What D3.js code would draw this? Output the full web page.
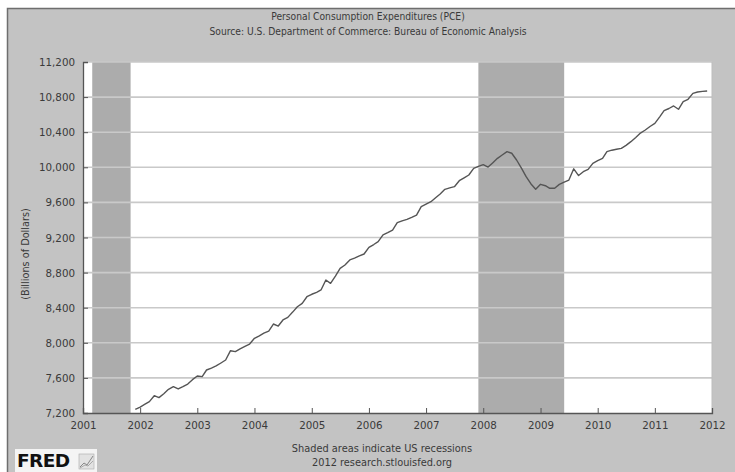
<!DOCTYPE html>
<html>
<head>
<meta charset="utf-8">
<script src="https://cdn.jsdelivr.net/npm/d3@7"></script>
<style>
  html, body { margin: 0; padding: 0; background: #ffffff; }
  svg { display: block; }
</style>
</head>
<body>
<svg id="chart" width="735" height="472"></svg>
<script>
// ---- data ----
const titleLines = ["Personal Consumption Expenditures (PCE)",
                    "Source: U.S. Department of Commerce: Bureau of Economic Analysis"];
const yAxisLabel = "(Billions of Dollars)";
const footerLines = ["Shaded areas indicate US recessions",
                     "2012 research.stlouisfed.org"];
const yTicks = [7200, 7600, 8000, 8400, 8800, 9200, 9600, 10000, 10400, 10800, 11200];
const xTickYears = [2001, 2002, 2003, 2004, 2005, 2006, 2007, 2008, 2009, 2010, 2011, 2012];
const recessions = [["2001-03-01", "2001-11-01"], ["2007-12-01", "2009-06-01"]];
const firstMonth = "2001-12-01";
// monthly PCE, billions of dollars, Dec 2001 .. Dec 2011
const pce = [
  7240,
  7268, 7300, 7330, 7397, 7375, 7420, 7470, 7500, 7474, 7500, 7530, 7580,
  7622, 7614, 7690, 7712, 7736, 7770, 7804, 7910, 7899, 7930, 7960, 7986,
  8051, 8080, 8110, 8134, 8214, 8191, 8260, 8290, 8350, 8411, 8450, 8525,
  8553, 8575, 8602, 8716, 8678, 8760, 8849, 8887, 8944, 8965, 8990, 9012,
  9088, 9120, 9152, 9229, 9255, 9285, 9369, 9390, 9407, 9430, 9456, 9551,
  9580, 9608, 9650, 9696, 9749, 9765, 9779, 9847, 9880, 9912, 9988, 10010,
  10030, 10003, 10050, 10102, 10140, 10178, 10160, 10083, 9990, 9893, 9810, 9749,
  9806, 9790, 9761, 9761, 9805, 9830, 9855, 9983, 9906, 9950, 9977, 10045,
  10075, 10102, 10178, 10195, 10205, 10216, 10250, 10292, 10340, 10390, 10425, 10465,
  10501, 10575, 10645, 10670, 10699, 10661, 10748, 10775, 10843, 10858, 10865, 10870
];

// ---- drawing ----
const svg = d3.select("#chart");
const W = 735, H = 472;
const plot = { left: 83, right: 712, top: 62, bottom: 413 };
const parse = d3.timeParse("%Y-%m-%d");
const start = parse(firstMonth);
const series = pce.map((v, i) => ({ date: d3.timeMonth.offset(start, i), value: v }));

const x = d3.scaleTime()
  .domain([new Date(2001, 0, 1), new Date(2012, 0, 1)])
  .range([plot.left, plot.right]);
const y = d3.scaleLinear()
  .domain([7200, 11200])
  .range([plot.bottom, plot.top]);

const textColor = "#3a3a3a";
const font = "'DejaVu Sans', Verdana, sans-serif";
const condensed = "'DejaVu Sans Condensed', 'DejaVu Sans', sans-serif";

// panel
svg.append("rect").attr("x", 7.5).attr("y", 8.5).attr("width", W).attr("height", H)
  .attr("fill", "#c3c3c3").attr("stroke", "#6e6e6e").attr("stroke-width", 1.5);

// plot area
svg.append("rect").attr("x", plot.left).attr("y", plot.top)
  .attr("width", plot.right - plot.left).attr("height", plot.bottom - plot.top)
  .attr("fill", "#ffffff");

// recessions
svg.append("g").selectAll("rect").data(recessions).join("rect")
  .attr("x", d => x(parse(d[0])))
  .attr("y", plot.top)
  .attr("width", d => x(parse(d[1])) - x(parse(d[0])))
  .attr("height", plot.bottom - plot.top)
  .attr("fill", "#acacac");

// gridlines
svg.append("g").selectAll("line").data(yTicks.filter(t => t !== 7200)).join("line")
  .attr("x1", plot.left).attr("x2", plot.right)
  .attr("y1", d => y(d)).attr("y2", d => y(d))
  .attr("stroke", "#c9c9c9").attr("stroke-width", 1.6);

// right border
svg.append("line").attr("x1", plot.right).attr("x2", plot.right)
  .attr("y1", plot.top).attr("y2", plot.bottom)
  .attr("stroke", "#bdbdbd").attr("stroke-width", 1);

// line
const line = d3.line().x(d => x(d.date)).y(d => y(d.value)).curve(d3.curveLinear);
svg.append("path").datum(series)
  .attr("d", line)
  .attr("fill", "none").attr("stroke", "#555555").attr("stroke-width", 1.4)
  .attr("stroke-linejoin", "round");

// axes
const yAxis = d3.axisLeft(y).tickValues(yTicks).tickSize(-5).tickPadding(8)
  .tickFormat(d3.format(","));
const gy = svg.append("g").attr("transform", `translate(${plot.left},0)`).call(yAxis);
const xAxis = d3.axisBottom(x).tickValues(xTickYears.map(yr => new Date(yr, 0, 1)))
  .tickSize(-5).tickPadding(9).tickFormat(d3.timeFormat("%Y"));
const gx = svg.append("g").attr("transform", `translate(0,${plot.bottom})`).call(xAxis);
[gx, gy].forEach(g => {
  g.select(".domain").attr("stroke", "#555").attr("stroke-width", 1.3);
  g.selectAll(".tick line").attr("stroke", "#555").attr("stroke-width", 1);
  g.selectAll(".tick text").attr("fill", textColor)
    .attr("font-family", font).attr("font-size", 10.3);
});
gy.selectAll(".tick text").attr("dy", "0.34em");

// titles
svg.append("g").selectAll("text").data(titleLines).join("text")
  .attr("x", 368).attr("y", (d, i) => 20 + i * 15)
  .attr("text-anchor", "middle")
  .attr("font-family", condensed)
  .attr("font-size", 10.2).attr("fill", textColor)
  .text(d => d);

// y label
svg.append("text")
  .attr("transform", "translate(29,254) rotate(-90)")
  .attr("text-anchor", "middle")
  .attr("font-family", condensed)
  .attr("font-size", 10.8).attr("fill", textColor)
  .text(yAxisLabel);

// footer
svg.append("g").selectAll("text").data(footerLines).join("text")
  .attr("x", 382).attr("y", (d, i) => 452 + i * 14)
  .attr("text-anchor", "middle")
  .attr("font-family", font).attr("font-size", 9.8).attr("fill", textColor)
  .text(d => d);

// FRED logo
const logo = svg.append("g");
logo.append("rect").attr("x", 15).attr("y", 449).attr("width", 82).attr("height", 23)
  .attr("fill", "#f4f4f4");
logo.append("text").attr("x", 17).attr("y", 467)
  .attr("font-family", "'DejaVu Sans', sans-serif").attr("font-weight", "bold")
  .attr("font-size", 18.5).attr("fill", "#111").attr("letter-spacing", -0.6)
  .text("FRED");
logo.append("rect").attr("x", 79).attr("y", 454).attr("width", 15).attr("height", 15)
  .attr("fill", "#e2e2e2").attr("stroke", "#aaa").attr("stroke-width", 0.6);
logo.append("path").attr("d", "M80,467 L84,463 L87,465 L93,456")
  .attr("fill", "none").attr("stroke", "#888").attr("stroke-width", 1);
logo.append("path").attr("d", "M80,468 L85,465 L88,466 L93,461")
  .attr("fill", "none").attr("stroke", "#999").attr("stroke-width", 0.8);
</script>
</body>
</html>
